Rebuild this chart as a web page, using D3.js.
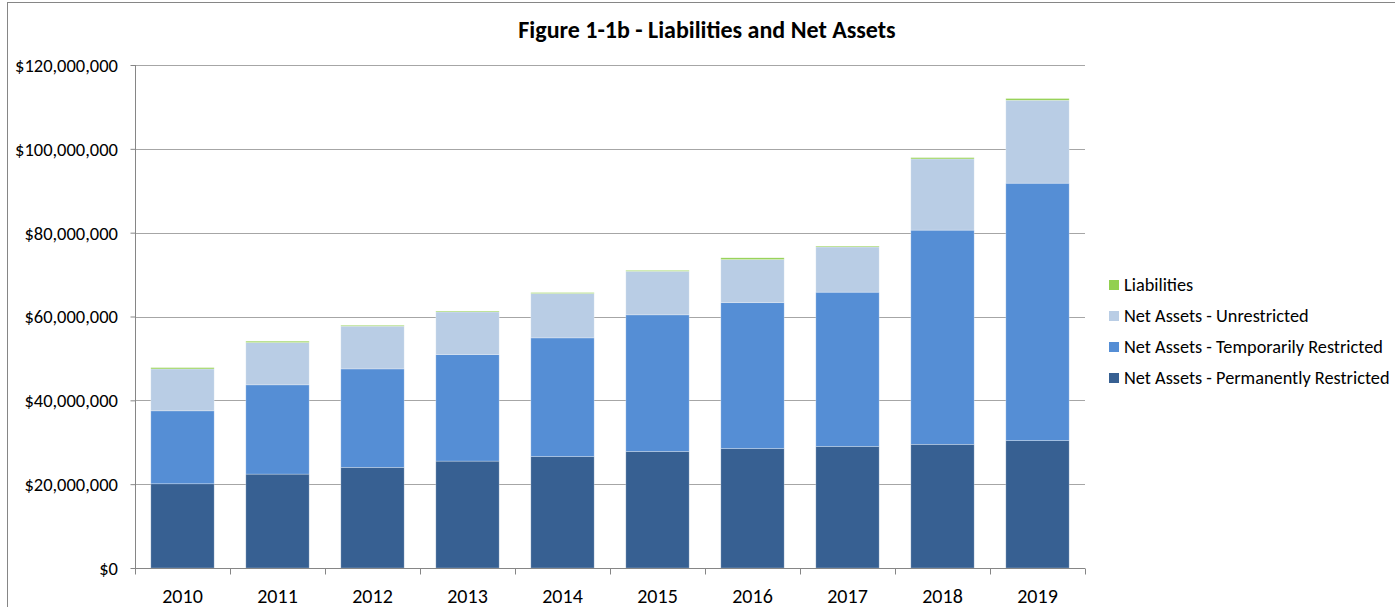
<!DOCTYPE html>
<html>
<head>
<meta charset="utf-8">
<script src="https://cdn.jsdelivr.net/npm/d3@7"></script>
<style>
  body { margin: 0; background: #fff; }
  text { font-family: Carlito, Lato, "Open Sans", sans-serif; fill: #000; }
</style>
</head>
<body>
<div id="chart"></div>
<script>
// data (millions of dollars)
var years = ["2010", "2011", "2012", "2013", "2014", "2015", "2016", "2017", "2018", "2019"];
var permRestricted = [20.1, 22.4, 24.0, 25.5, 26.6, 27.8, 28.5, 29.0, 29.5, 30.4];
var tempRestricted = [17.4, 21.3, 23.5, 25.4, 28.3, 32.6, 34.8, 36.8, 51.1, 61.4];
var unrestricted = [10.0, 10.1, 10.2, 10.2, 10.6, 10.4, 10.3, 10.8, 17.0, 19.8];
var liabilities = [0.3, 0.3, 0.2, 0.2, 0.2, 0.2, 0.4, 0.2, 0.3, 0.4];
var yTicks = [0, 20, 40, 60, 80, 100, 120];

var seriesNames = ["Net Assets - Permanently Restricted", "Net Assets - Temporarily Restricted",
                   "Net Assets - Unrestricted", "Liabilities"];
var seriesColors = ["#376092", "#558ed5", "#b9cde5", "#92d050"];

var width = 1395, height = 607;
var plotLeft = 135, plotRight = 1085, plotTop = 65, plotBottom = 568;

var svg = d3.select("#chart").append("svg")
  .attr("width", width).attr("height", height);

// outer chart border
svg.append("rect")
  .attr("x", 7.5).attr("y", 2.5).attr("width", 1400).attr("height", 620)
  .attr("fill", "none").attr("stroke", "#868686").attr("stroke-width", 1);

var table = years.map(function(y, i) {
  return { year: y, s0: permRestricted[i], s1: tempRestricted[i], s2: unrestricted[i], s3: liabilities[i] };
});
var stack = d3.stack().keys(["s0", "s1", "s2", "s3"])(table);

var x = d3.scaleBand().domain(years).range([plotLeft, plotRight]).paddingInner(1/3).paddingOuter(1/6);
var xTicks = d3.scaleBand().domain(years).range([plotLeft, plotRight]);
var y = d3.scaleLinear().domain([0, 120]).range([plotBottom, plotTop]);

// gridlines
svg.append("g").selectAll("line")
  .data(yTicks.slice(1))
  .enter().append("line")
  .attr("x1", plotLeft).attr("x2", plotRight)
  .attr("y1", function(d) { return Math.round(y(d)) + 0.5; })
  .attr("y2", function(d) { return Math.round(y(d)) + 0.5; })
  .attr("stroke", "#a6a6a6").attr("stroke-width", 1);

// bars
var colour = d3.scaleOrdinal().domain(["s0", "s1", "s2", "s3"]).range(seriesColors);
svg.append("g").selectAll("g")
  .data(stack)
  .enter().append("g")
  .attr("fill", function(d) { return colour(d.key); })
  .selectAll("rect")
  .data(function(d) { return d; })
  .enter().append("rect")
  .attr("x", function(d) { return x(d.data.year); })
  .attr("width", x.bandwidth())
  .attr("y", function(d) { return y(d[1]); })
  .attr("height", function(d) { return y(d[0]) - y(d[1]); })
  .attr("stroke", "rgba(255,255,255,0.35)").attr("stroke-width", 0.75);

// y axis
var yAxis = svg.append("g")
  .attr("transform", "translate(" + (plotLeft + 0.5) + ",0)")
  .call(d3.axisLeft(y).tickValues(yTicks).tickSize(5).tickPadding(12.5)
    .tickFormat(function(d) { return "$" + d3.format(",")(d * 1000000); }));
yAxis.attr("font-family", null).attr("font-size", null);
yAxis.select(".domain").attr("stroke", "#868686").attr("d", "M0," + plotTop + "V" + plotBottom);
yAxis.selectAll(".tick line").attr("stroke", "#868686");
yAxis.selectAll(".tick text").attr("font-size", "18.5px").attr("fill", "#000").attr("dy", "0.35em");

// x axis
var xAxis = svg.append("g")
  .attr("transform", "translate(0," + (plotBottom + 0.5) + ")");
xAxis.append("line")
  .attr("x1", plotLeft).attr("x2", plotRight).attr("stroke", "#868686");
xAxis.selectAll(".xtick")
  .data(years.concat(["end"]))
  .enter().append("line")
  .attr("x1", function(d, i) { return Math.round(plotLeft + i * xTicks.bandwidth()) + 0.5; })
  .attr("x2", function(d, i) { return Math.round(plotLeft + i * xTicks.bandwidth()) + 0.5; })
  .attr("y1", 0).attr("y2", 6)
  .attr("stroke", "#868686");
xAxis.selectAll(".xlabel")
  .data(years)
  .enter().append("text")
  .attr("x", function(d) { return x(d) + x.bandwidth() / 2; })
  .attr("y", 34)
  .attr("text-anchor", "middle")
  .attr("font-size", "20px")
  .text(function(d) { return d; });

// title
svg.append("text")
  .attr("x", 707).attr("y", 38)
  .attr("text-anchor", "middle")
  .attr("font-size", "24px").attr("font-weight", "bold")
  .text("Figure 1-1b - Liabilities and Net Assets");

// legend (top entry is the top series)
var legend = svg.append("g").selectAll("g")
  .data(seriesNames.slice().reverse())
  .enter().append("g")
  .attr("transform", function(d, i) { return "translate(1109," + (285 + i * 31) + ")"; });
legend.append("rect")
  .attr("x", 0).attr("y", -5).attr("width", 10).attr("height", 10)
  .attr("fill", function(d, i) { return seriesColors[3 - i]; });
legend.append("text")
  .attr("x", 15).attr("y", 6)
  .attr("font-size", "18.3px")
  .text(function(d) { return d; });
</script>
</body>
</html>
